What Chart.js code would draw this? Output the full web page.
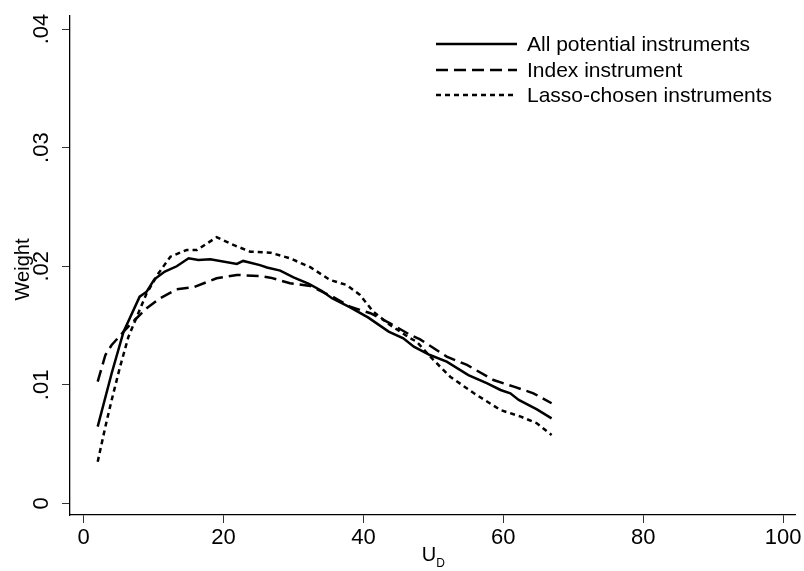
<!DOCTYPE html>
<html>
<head>
<meta charset="utf-8">
<script src="https://cdn.jsdelivr.net/npm/chart.js@4/dist/chart.umd.min.js"></script>
<style>
html,body{margin:0;padding:0;background:#fff;}
#wrap{width:804px;height:571px;position:relative;}
</style>
</head>
<body>
<div id="wrap"><canvas id="c" width="804" height="571"></canvas></div>
<script>
// ---- data ----
const seriesNames = ["All potential instruments", "Index instrument", "Lasso-chosen instruments"];

const allX = [2.0,4.0,5.7,8.0,9.0,10.1,11.6,13.3,15.0,16.4,18.1,21.9,22.8,25.2,26.2,28.1,30.0,32.2,34.0,35.5,38.1,40.7,43.6,45.7,47.2,49.5,51.9,55.0,57.7,59.6,61.0,62.2,64.8,66.9];
const allY = [0.00648,0.01098,0.01449,0.01744,0.01786,0.0189,0.01955,0.0200,0.02067,0.02053,0.02059,0.0202,0.02045,0.0201,0.0199,0.01963,0.01907,0.01851,0.01794,0.0173,0.01654,0.01567,0.01449,0.01393,0.01322,0.01252,0.01196,0.01083,0.01013,0.00957,0.00929,0.00873,0.00794,0.00718];

const indexX = [2.0,3.1,4.0,5.7,7.3,9.0,10.9,13.3,15.7,19.0,21.9,25.2,26.7,29.5,32.4,35.7,38.1,41.0,43.8,46.7,48.1,51.9,54.8,58.6,61.5,64.3,66.9];
const indexY = [0.01027,0.01252,0.01336,0.01449,0.01547,0.01646,0.0173,0.01806,0.01823,0.01899,0.01927,0.01918,0.01904,0.01857,0.01834,0.01739,0.01659,0.01604,0.01519,0.01421,0.01384,0.01238,0.01168,0.01041,0.00985,0.00929,0.00845];

const lassoX = [2.0,3.1,4.0,5.2,6.4,7.8,9.0,10.7,12.4,14.7,16.2,19.0,21.4,23.8,26.7,29.5,32.4,35.2,37.6,39.5,41.4,43.8,46.7,47.6,50.0,52.4,55.8,59.6,62.5,64.8,66.9];
const lassoY = [0.00352,0.00648,0.00873,0.01153,0.01406,0.01604,0.01772,0.01941,0.02081,0.02137,0.02137,0.02245,0.0218,0.02123,0.02115,0.02067,0.01992,0.01885,0.01842,0.01758,0.01617,0.01505,0.01393,0.01364,0.0121,0.01069,0.00929,0.00788,0.00732,0.00676,0.00578];

const xTicks = [0,20,40,60,80,100];
const yTicks = [0,0.01,0.02,0.03,0.04];
const yTitle = "Weight";
const xTitleMain = "U";
const xTitleSub = "D";

// ---- build ----
function pts(xs, ys){ return xs.map((x,i)=>({x:x, y:ys[i]})); }
const dashes = [[], [12,6], [5,4]];
const FONT = "'Liberation Sans', Arial, sans-serif";

const datasets = [
  {label: seriesNames[0], data: pts(allX, allY), borderDash: dashes[0]},
  {label: seriesNames[1], data: pts(indexX, indexY), borderDash: dashes[1]},
  {label: seriesNames[2], data: pts(lassoX, lassoY), borderDash: dashes[2]}
].map(d => Object.assign(d, {borderColor:'#000', borderWidth:2.5, pointRadius:0, tension:0, fill:false}));

const fmtY = v => v === 0 ? '0' : v.toFixed(2).replace(/^0/, '');

const decor = {
  id: 'decor',
  afterDraw(chart){
    const ctx = chart.ctx;
    const ys = chart.scales.y, xs = chart.scales.x;
    ctx.save();
    ctx.fillStyle = '#000';
    // y tick labels (rotated)
    ctx.font = '22px ' + FONT;
    ctx.textAlign = 'center';
    ctx.textBaseline = 'alphabetic';
    yTicks.forEach(v => {
      const py = ys.getPixelForValue(v);
      ctx.save();
      ctx.translate(48, py);
      ctx.rotate(-Math.PI/2);
      ctx.fillText(fmtY(v), 0, 0);
      ctx.restore();
    });
    // y title
    ctx.font = '20px ' + FONT;
    ctx.save();
    ctx.translate(29, (chart.chartArea.top + chart.chartArea.bottom)/2 + 4);
    ctx.rotate(-Math.PI/2);
    ctx.fillText(yTitle, 0, 0);
    ctx.restore();
    // x title with subscript
    const cx = (xs.getPixelForValue(0) + xs.getPixelForValue(100))/2;
    ctx.font = '20px ' + FONT;
    const wU = ctx.measureText(xTitleMain).width;
    ctx.font = '12px ' + FONT;
    const wD = ctx.measureText(xTitleSub).width;
    const startX = cx - (wU + wD)/2;
    ctx.textAlign = 'left';
    ctx.font = '20px ' + FONT;
    ctx.fillText(xTitleMain, startX, 561);
    ctx.font = '12px ' + FONT;
    ctx.fillText(xTitleSub, startX + wU, 567);
    // legend
    const lx0 = 436, lx1 = 517, tx = 527;
    const rows = [44, 70, 95];
    ctx.font = '21px ' + FONT;
    ctx.textBaseline = 'middle';
    datasets.forEach((d, i) => {
      ctx.beginPath();
      ctx.setLineDash(d.borderDash);
      ctx.lineWidth = 2.5;
      ctx.strokeStyle = '#000';
      ctx.moveTo(lx0, rows[i]);
      ctx.lineTo(lx1, rows[i]);
      ctx.stroke();
      ctx.setLineDash([]);
      ctx.fillText(d.label, tx, rows[i] + 1);
    });
    ctx.restore();
  }
};

new Chart(document.getElementById('c'), {
  type: 'line',
  data: {datasets},
  plugins: [decor],
  options: {
    responsive: false,
    animation: false,
    devicePixelRatio: 1,
    layout: {padding: {top: 16, right: 9, left: 0, bottom: 0}},
    plugins: {legend: {display: false}, tooltip: {enabled: false}},
    scales: {
      x: {
        type: 'linear',
        min: -1.96, max: 101.7,
        afterBuildTicks: s => { s.ticks = xTicks.map(v => ({value: v})); },
        afterFit: s => { s.height = 56; },
        border: {display: true, color: '#000', width: 1.3},
        grid: {drawOnChartArea: false, drawTicks: true, tickLength: 8, color: '#333', lineWidth: 1},
        ticks: {color: '#000', font: {family: FONT, size: 22}, padding: 2, maxRotation: 0, autoSkip: false}
      },
      y: {
        type: 'linear',
        min: -0.00097, max: 0.0411,
        afterBuildTicks: s => { s.ticks = yTicks.map(v => ({value: v})); },
        afterFit: s => { s.width = 70; },
        border: {display: true, color: '#000', width: 1.3},
        grid: {drawOnChartArea: false, drawTicks: true, tickLength: 8, color: '#333', lineWidth: 1},
        ticks: {display: false}
      }
    }
  }
});
</script>
</body>
</html>
